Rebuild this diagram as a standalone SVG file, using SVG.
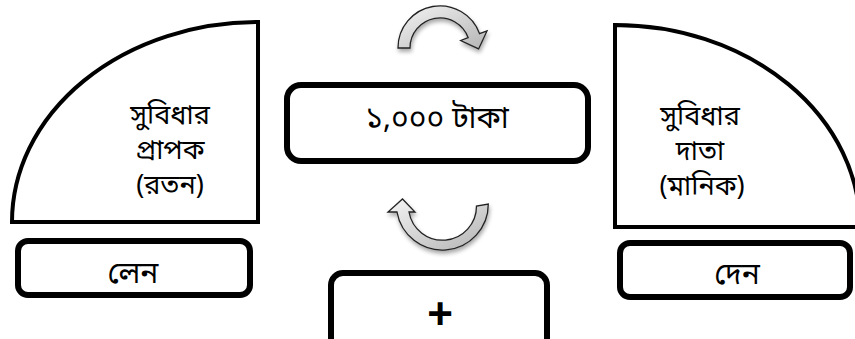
<svg xmlns="http://www.w3.org/2000/svg" width="855" height="339" viewBox="0 0 855 339">
<defs>
<style>
.q{fill:#fff;stroke:#000;stroke-width:4;stroke-linejoin:miter}
.b{fill:#fff;stroke:#000;stroke-width:6}
.t{font-family:"Noto Sans Bengali","Lohit Bengali","Noto Sans","DejaVu Sans",sans-serif;fill:#000;text-anchor:middle}
.arr{fill:url(#g);stroke:#222;stroke-width:1.3;stroke-linejoin:miter;filter:url(#sh)}
</style>
<linearGradient id="g" x1="0" y1="0" x2="1" y2="1">
<stop offset="0" stop-color="#f4f4f4"/>
<stop offset="1" stop-color="#b4b4b4"/>
</linearGradient>
<filter id="sh" x="-20%" y="-20%" width="150%" height="160%">
<feGaussianBlur in="SourceAlpha" stdDeviation="2"/>
<feOffset dx="1" dy="3" result="o"/>
<feComponentTransfer><feFuncA type="linear" slope="0.35"/></feComponentTransfer>
<feMerge><feMergeNode/><feMergeNode in="SourceGraphic"/></feMerge>
</filter>
</defs>
<rect width="855" height="339" fill="#fff"/>

<g id="recipient">
<path class="q" d="M12,222 A246,200 0 0 1 258,22 L258,222 Z"/>
<text class="t" x="170" y="124" font-size="27">সুবিধার</text>
<text class="t" x="170" y="159" font-size="27">প্রাপক</text>
<text class="t" x="170" y="194" font-size="27">(রতন)</text>
</g>

<g id="giver">
<path class="q" d="M615,227 L615,25 A245,202 0 0 1 860,227 Z"/>
<text class="t" x="700" y="125" font-size="27">সুবিধার</text>
<text class="t" x="700" y="160" font-size="27">দাতা</text>
<text class="t" x="702" y="195" font-size="27">(মানিক)</text>
</g>

<g id="amount">
<rect class="b" x="287" y="85" width="301" height="76" rx="14"/>
<text class="t" x="437" y="128" font-size="30">১,০০০ টাকা</text>
</g>

<g id="take">
<rect class="b" x="18" y="241" width="232" height="54" rx="10"/>
<text class="t" x="133" y="283" font-size="30">লেন</text>
</g>

<g id="give">
<rect class="b" x="620" y="243" width="230" height="54" rx="10"/>
<text class="t" x="737" y="284" font-size="30">দেন</text>
</g>

<g id="plus">
<rect class="b" x="331" y="273" width="216" height="80" rx="12"/>
<text x="440" y="329" font-size="44" font-weight="bold" font-family="Liberation Sans, Arial, sans-serif" text-anchor="middle" fill="#000">+</text>
</g>

<g id="connectors">
<path class="arr" d="M398,48 A42,42 0 0 1 479.5,33.6 L487,30.9 L478.6,48.9 L460.7,40.5 L468.2,37.7 A30,30 0 0 0 410,48 Z"/>
<path class="arr" d="M488.3,204 A46,46 0 0 1 397,212 L388,212 L402.5,199 L415,212 L409,212 A34,34 0 0 0 476.5,206 Z"/>
</g>
</svg>
